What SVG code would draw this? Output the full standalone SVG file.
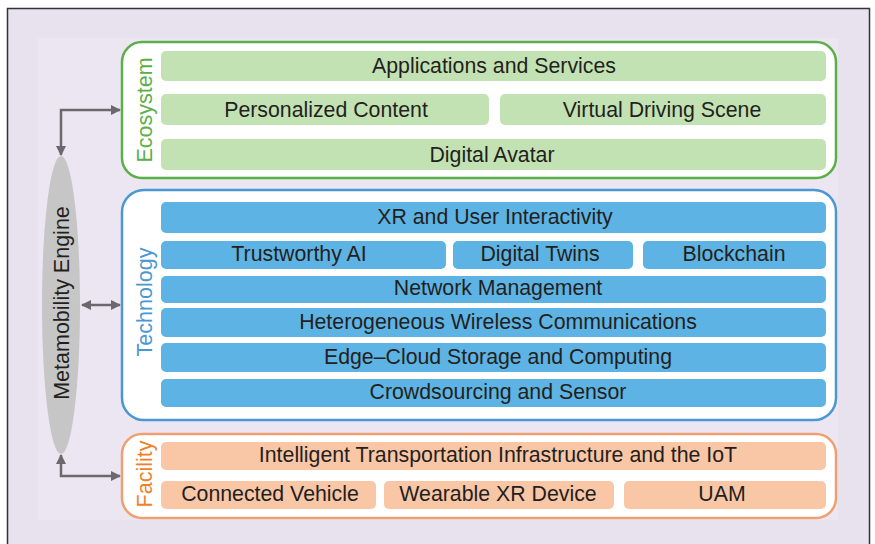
<svg xmlns="http://www.w3.org/2000/svg" width="875" height="544" viewBox="0 0 875 544">
<defs>
<marker id="ah" viewBox="0 0 10 10" refX="9" refY="5" markerWidth="4" markerHeight="4" orient="auto-start-reverse" markerUnits="strokeWidth">
<path d="M0,0 L10,5 L0,10 z" fill="#6d686d"/>
</marker>
</defs>
<style>
.t{font-family:"Liberation Sans",Arial,sans-serif;font-size:21.3px;fill:#231f20;text-anchor:middle;dominant-baseline:central}
.g{fill:#c3e2b3}
.b{fill:#5db3e3}
.o{fill:#f9c6a6}
.lab{font-family:"Liberation Sans",Arial,sans-serif;font-size:21.5px;text-anchor:middle;dominant-baseline:central}
.con{stroke:#6d686d;stroke-width:2.5;fill:none}
</style>
<rect x="0" y="0" width="875" height="544" fill="#ffffff"/>
<rect x="7.5" y="8.5" width="862" height="540" fill="#e8e2ee" stroke="#333" stroke-width="1.5"/>
<rect x="38" y="38" width="800" height="482" fill="#ebe6f1"/>

<g id="engine">
<ellipse cx="61" cy="305" rx="19" ry="149" fill="#c6c6c6"/>
<text class="lab" transform="translate(62,303) rotate(-90)" fill="#231f20" font-size="19.8">Metamobility Engine</text>
</g>

<g id="connectors">
<path class="con" d="M61,155 L61,110 L120,110" marker-start="url(#ah)" marker-end="url(#ah)"/>
<path class="con" d="M82,305 L120,305" marker-start="url(#ah)" marker-end="url(#ah)"/>
<path class="con" d="M61,455 L61,476 L120,476" marker-start="url(#ah)" marker-end="url(#ah)"/>
</g>

<g id="ecosystem">
<rect x="122" y="42" width="714" height="136" rx="20" fill="#ffffff" stroke="#5aaf47" stroke-width="2.5"/>
<text class="lab" transform="translate(145,110) rotate(-90)" fill="#5aaf47">Ecosystem</text>
</g>
<g id="apps"><rect class="g" x="161" y="51" width="665" height="30" rx="5"/><text class="t" x="494" y="66">Applications and Services</text></g>
<g id="personalized"><rect class="g" x="161" y="94" width="328" height="31" rx="5"/><text class="t" x="326" y="110">Personalized Content</text></g>
<g id="virtual"><rect class="g" x="500" y="94" width="326" height="31" rx="5"/><text class="t" x="662" y="110">Virtual Driving Scene</text></g>
<g id="avatar"><rect class="g" x="161" y="139" width="665" height="31" rx="5"/><text class="t" x="492" y="155">Digital Avatar</text></g>

<g id="technology">
<rect x="122" y="190" width="714" height="230" rx="22" fill="#ffffff" stroke="#4a97d2" stroke-width="2.5"/>
<text class="lab" transform="translate(145,302) rotate(-90)" fill="#4a97d2">Technology</text>
</g>
<g id="xr"><rect class="b" x="161" y="202" width="665" height="31" rx="5"/><text class="t" x="495" y="217">XR and User Interactivity</text></g>
<g id="ai"><rect class="b" x="161" y="241" width="285" height="28" rx="5"/><text class="t" x="299" y="254">Trustworthy AI</text></g>
<g id="twins"><rect class="b" x="453" y="241" width="180" height="28" rx="5"/><text class="t" x="540" y="254">Digital Twins</text></g>
<g id="blockchain"><rect class="b" x="643" y="241" width="183" height="28" rx="5"/><text class="t" x="734" y="254">Blockchain</text></g>
<g id="network"><rect class="b" x="161" y="276" width="665" height="27" rx="5"/><text class="t" x="498" y="288">Network Management</text></g>
<g id="wireless"><rect class="b" x="161" y="308" width="665" height="29" rx="5"/><text class="t" x="498" y="322">Heterogeneous Wireless Communications</text></g>
<g id="edge"><rect class="b" x="161" y="343" width="665" height="29" rx="5"/><text class="t" x="498" y="357">Edge–Cloud Storage and Computing</text></g>
<g id="crowd"><rect class="b" x="161" y="379" width="665" height="28" rx="5"/><text class="t" x="498" y="392">Crowdsourcing and Sensor</text></g>

<g id="facility">
<rect x="122" y="434" width="714" height="84" rx="20" fill="#ffffff" stroke="#f0a070" stroke-width="2.5"/>
<text class="lab" transform="translate(145,474) rotate(-90)" fill="#f07f2a">Facility</text>
</g>
<g id="its"><rect class="o" x="161" y="442" width="665" height="28" rx="5"/><text class="t" x="498" y="455">Intelligent Transportation Infrastructure and the IoT</text></g>
<g id="vehicle"><rect class="o" x="161" y="481" width="215" height="28" rx="5"/><text class="t" x="270" y="494">Connected Vehicle</text></g>
<g id="wearable"><rect class="o" x="384" y="481" width="230" height="28" rx="5"/><text class="t" x="498" y="494">Wearable XR Device</text></g>
<g id="uam"><rect class="o" x="624" y="481" width="202" height="28" rx="5"/><text class="t" x="722" y="494">UAM</text></g>
</svg>
